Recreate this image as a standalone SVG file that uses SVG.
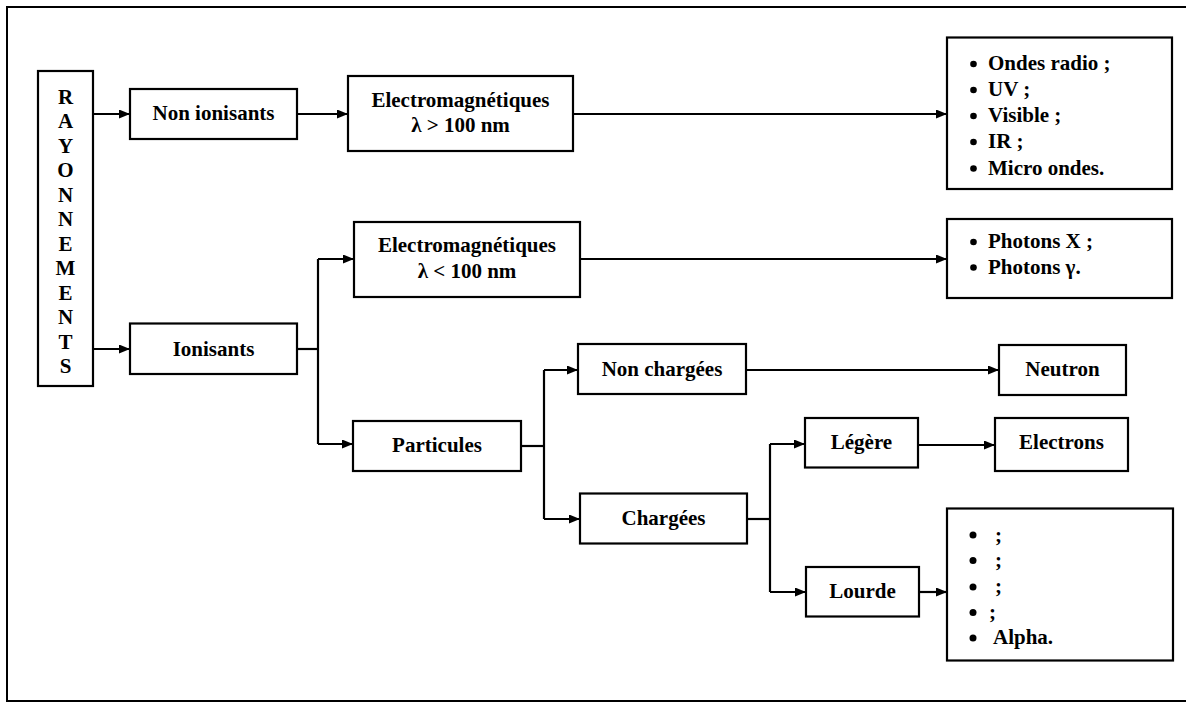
<svg xmlns="http://www.w3.org/2000/svg" width="1186" height="702" viewBox="0 0 1186 702">
<style>
.box{fill:#fff;stroke:#000;stroke-width:2.2}
.t{font-family:"Liberation Serif","Times New Roman",serif;font-weight:bold;font-size:21px;fill:#000}
.c{text-anchor:middle}
.ln{fill:none;stroke:#000;stroke-width:2.2}
.b{fill:#000}
</style>
<defs>
<marker id="ah" markerUnits="userSpaceOnUse" markerWidth="12" markerHeight="10" refX="11" refY="4.5" orient="auto">
<path d="M0,0 L11,4.5 L0,9 z" fill="#000"/>
</marker>
</defs>
<rect x="0" y="0" width="1186" height="702" fill="#fff"/>
<path d="M1190,7 H7 V701 H1190" fill="none" stroke="#000" stroke-width="2"/>

<g id="connectors" class="ln">
<path d="M93,114 H130" marker-end="url(#ah)"/>
<path d="M93,349 H130" marker-end="url(#ah)"/>
<path d="M297,114 H348" marker-end="url(#ah)"/>
<path d="M573,114 H947" marker-end="url(#ah)"/>
<path d="M297,349 H318"/>
<path d="M318,259 V444"/>
<path d="M318,259 H354" marker-end="url(#ah)"/>
<path d="M318,444 H353" marker-end="url(#ah)"/>
<path d="M580,259 H947" marker-end="url(#ah)"/>
<path d="M521,446 H544"/>
<path d="M544,370 V519"/>
<path d="M544,370 H578" marker-end="url(#ah)"/>
<path d="M544,519 H580" marker-end="url(#ah)"/>
<path d="M746,370 H999" marker-end="url(#ah)"/>
<path d="M747,519 H770"/>
<path d="M770,444 V592"/>
<path d="M770,444 H805" marker-end="url(#ah)"/>
<path d="M770,592 H806" marker-end="url(#ah)"/>
<path d="M918,445 H995" marker-end="url(#ah)"/>
<path d="M919,592 H947" marker-end="url(#ah)"/>
</g>

<g id="rayonnements">
<rect class="box" x="38" y="71" width="55" height="315"/>
<text class="t c" x="65.5">
<tspan x="65.5" y="103.5">R</tspan><tspan x="65.5" y="128">A</tspan><tspan x="65.5" y="152.5">Y</tspan><tspan x="65.5" y="177">O</tspan><tspan x="65.5" y="201.5">N</tspan><tspan x="65.5" y="226">N</tspan><tspan x="65.5" y="250.5">E</tspan><tspan x="65.5" y="275">M</tspan><tspan x="65.5" y="299.5">E</tspan><tspan x="65.5" y="324">N</tspan><tspan x="65.5" y="348.5">T</tspan><tspan x="65.5" y="373">S</tspan>
</text>
</g>

<g id="non-ionisants">
<rect class="box" x="130" y="89" width="167" height="50"/>
<text class="t c" x="213.5" y="120">Non ionisants</text>
</g>

<g id="ionisants">
<rect class="box" x="130" y="323.5" width="167" height="50.5"/>
<text class="t c" x="213.5" y="355.5">Ionisants</text>
</g>

<g id="em-sup">
<rect class="box" x="348" y="76" width="225" height="75"/>
<text class="t c" x="460.5" y="106.5">Electromagnétiques</text>
<text class="t c" x="460.5" y="132">λ &gt; 100 nm</text>
</g>

<g id="em-inf">
<rect class="box" x="354" y="222" width="226" height="75"/>
<text class="t c" x="467" y="252">Electromagnétiques</text>
<text class="t c" x="467" y="277.5">λ &lt; 100 nm</text>
</g>

<g id="particules">
<rect class="box" x="353" y="421" width="168" height="50"/>
<text class="t c" x="437" y="452">Particules</text>
</g>

<g id="non-chargees">
<rect class="box" x="578" y="344" width="168" height="50"/>
<text class="t c" x="662" y="375.5">Non chargées</text>
</g>

<g id="chargees">
<rect class="box" x="580" y="493.5" width="167" height="50"/>
<text class="t c" x="663.5" y="524.5">Chargées</text>
</g>

<g id="legere">
<rect class="box" x="805" y="418" width="113" height="49.5"/>
<text class="t c" x="861.5" y="449">Légère</text>
</g>

<g id="lourde">
<rect class="box" x="806" y="567" width="113" height="49.5"/>
<text class="t c" x="862.5" y="597.5">Lourde</text>
</g>

<g id="neutron">
<rect class="box" x="999" y="345" width="127" height="50"/>
<text class="t c" x="1062.5" y="375.5">Neutron</text>
</g>

<g id="electrons">
<rect class="box" x="995" y="418" width="133" height="53"/>
<text class="t c" x="1061.5" y="449">Electrons</text>
</g>

<g id="liste-non-ionisants">
<rect class="box" x="947" y="37.5" width="225" height="151.5"/>
<circle class="b" cx="973.5" cy="64" r="3.3"/>
<circle class="b" cx="973.5" cy="90" r="3.3"/>
<circle class="b" cx="973.5" cy="116" r="3.3"/>
<circle class="b" cx="973.5" cy="142" r="3.3"/>
<circle class="b" cx="973.5" cy="168.5" r="3.3"/>
<text class="t" x="988" y="70">Ondes radio ;</text>
<text class="t" x="988" y="96">UV ;</text>
<text class="t" x="988" y="122">Visible ;</text>
<text class="t" x="988" y="148">IR ;</text>
<text class="t" x="988" y="174.5">Micro ondes.</text>
</g>

<g id="liste-photons">
<rect class="box" x="947" y="219" width="225" height="79"/>
<circle class="b" cx="973.5" cy="242" r="3.3"/>
<circle class="b" cx="973.5" cy="267.5" r="3.3"/>
<text class="t" x="988" y="248">Photons X ;</text>
<text class="t" x="988" y="273.5">Photons γ.</text>
</g>

<g id="liste-lourde">
<rect class="box" x="947" y="508.5" width="226" height="152"/>
<circle class="b" cx="973" cy="535" r="3.5"/>
<circle class="b" cx="973" cy="560.5" r="3.5"/>
<circle class="b" cx="973" cy="587" r="3.5"/>
<circle class="b" cx="973" cy="612.5" r="3.5"/>
<circle class="b" cx="973" cy="638" r="3.5"/>
<text class="t" x="995" y="541.5">;</text>
<text class="t" x="995" y="567">;</text>
<text class="t" x="995" y="593">;</text>
<text class="t" x="989" y="618.5">;</text>
<text class="t" x="993" y="644">Alpha.</text>
</g>
</svg>
